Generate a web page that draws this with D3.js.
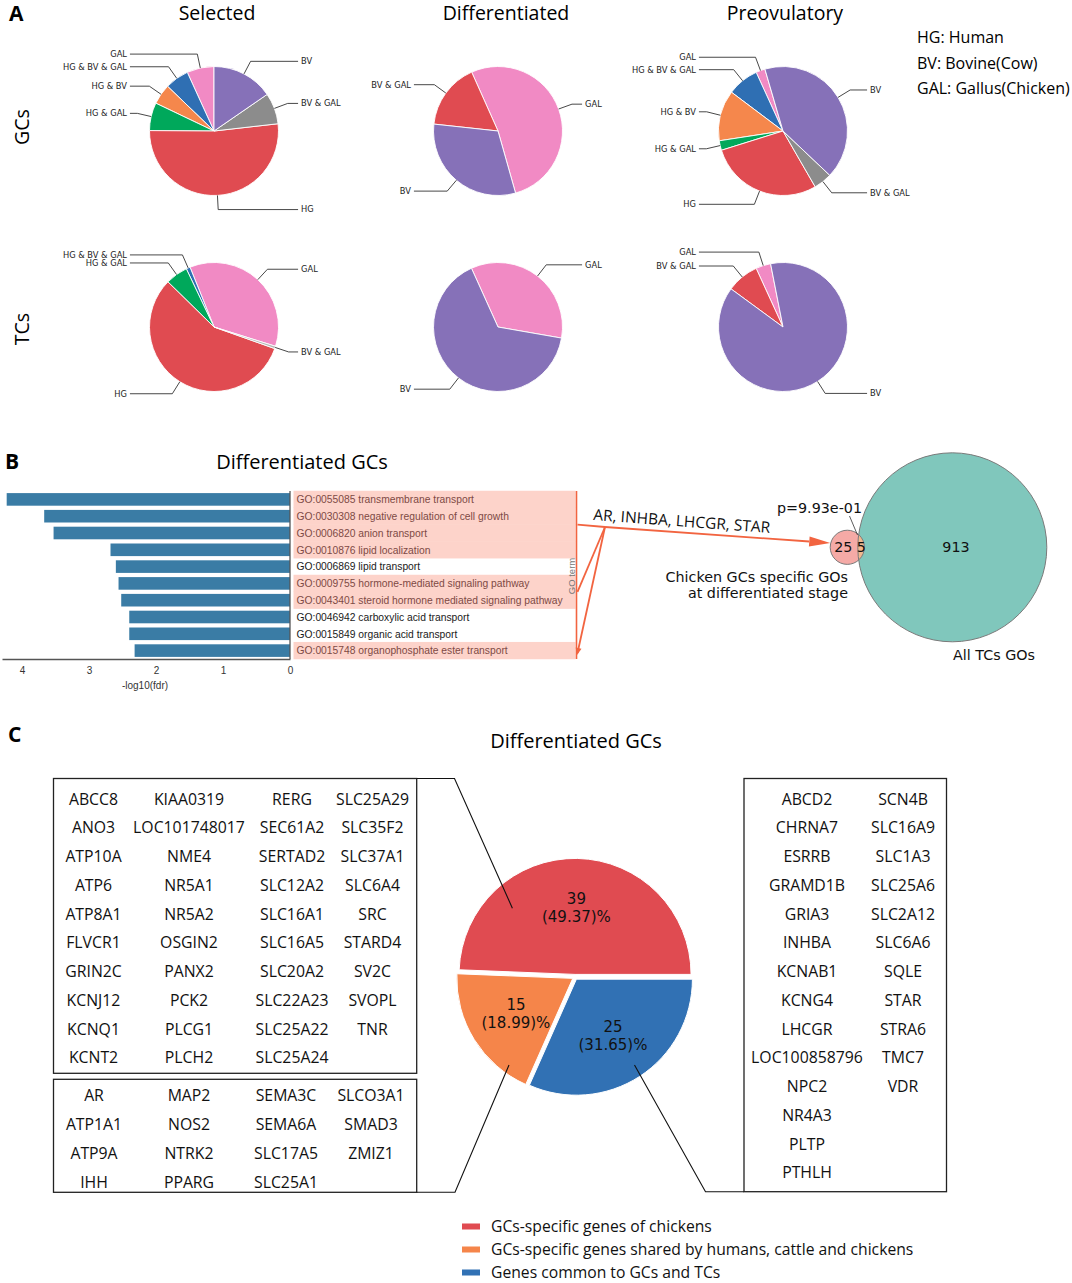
<!DOCTYPE html>
<html>
<head>
<meta charset="utf-8">
<script src="https://cdn.jsdelivr.net/npm/d3@7"></script>
<style>
body { margin: 0; background: #fff; }
</style>
</head>
<body>
<svg id="fig" width="1072" height="1283"></svg>
<script>
// ---------- panel A : share of species-specific genes ----------
var selGCLabels = ["GAL", "HG & BV & GAL", "HG & BV", "HG & GAL", "HG", "BV & GAL", "BV"];
var selGCValues = [6.8, 6.0, 5.1, 7.0, 51.9, 7.8, 15.4];
var difGCLabels = ["GAL", "BV & GAL", "BV"];
var difGCValues = [52.3, 16.6, 31.1];
var preGCLabels = ["GAL", "HG & BV & GAL", "HG & BV", "HG & GAL", "HG", "BV & GAL", "BV"];
var preGCValues = [2.3, 7.9, 12.7, 2.4, 28.5, 4.6, 41.6];
var selTCLabels = ["GAL", "HG & BV & GAL", "HG & GAL", "HG", "BV & GAL"];
var selTCValues = [35.9, 1.0, 5.6, 56.9, 0.6];
var difTCLabels = ["GAL", "BV"];
var difTCValues = [34.5, 65.5];
var preTCLabels = ["GAL", "BV & GAL", "BV"];
var preTCValues = [3.75, 8.1, 88.15];

var stageTitles = ["Selected", "Differentiated", "Preovulatory"];
var cellTitles = ["GCs", "TCs"];
var abbrevLegend = ["HG: Human", "BV: Bovine(Cow)", "GAL: Gallus(Chicken)"];

// ---------- panel B : GO enrichment ----------
var goTerms = [
  "GO:0055085 transmembrane transport",
  "GO:0030308 negative regulation of cell growth",
  "GO:0006820 anion transport",
  "GO:0010876 lipid localization",
  "GO:0006869 lipid transport",
  "GO:0009755 hormone-mediated signaling pathway",
  "GO:0043401 steroid hormone mediated signaling pathway",
  "GO:0046942 carboxylic acid transport",
  "GO:0015849 organic acid transport",
  "GO:0015748 organophosphate ester transport"
];
var goValues = [4.23, 3.67, 3.53, 2.68, 2.60, 2.56, 2.52, 2.40, 2.40, 2.32];
var goHighlight = [1, 1, 1, 1, 0, 1, 1, 0, 0, 1];
var goGroups = [[0, 3], [5, 6], [9, 9]];
var goTicks = [0, 1, 2, 3, 4];
var keyGenes = "AR, INHBA, LHCGR, STAR";
var vennCounts = [25, 5, 913];   // chicken only, shared, TCs only
var vennP = "p=9.93e-01";

// ---------- panel C : differentiated GCs genes ----------
var cCounts = [39, 15, 25];
var cLegend = ["GCs-specific genes of chickens",
               "GCs-specific genes shared by humans, cattle and chickens",
               "Genes common to GCs and TCs"];
var chickenGenes = ["ABCC8","ANO3","ATP10A","ATP6","ATP8A1","FLVCR1","GRIN2C","KCNJ12","KCNQ1","KCNT2",
  "KIAA0319","LOC101748017","NME4","NR5A1","NR5A2","OSGIN2","PANX2","PCK2","PLCG1","PLCH2",
  "RERG","SEC61A2","SERTAD2","SLC12A2","SLC16A1","SLC16A5","SLC20A2","SLC22A23","SLC25A22","SLC25A24",
  "SLC25A29","SLC35F2","SLC37A1","SLC6A4","SRC","STARD4","SV2C","SVOPL","TNR"];
var sharedGenes = ["AR","ATP1A1","ATP9A","IHH","MAP2","NOS2","NTRK2","PPARG",
  "SEMA3C","SEMA6A","SLC17A5","SLC25A1","SLCO3A1","SMAD3","ZMIZ1"];
var commonGenes = ["ABCD2","CHRNA7","ESRRB","GRAMD1B","GRIA3","INHBA","KCNAB1","KCNG4","LHCGR",
  "LOC100858796","NPC2","NR4A3","PLTP","PTHLH",
  "SCN4B","SLC16A9","SLC1A3","SLC25A6","SLC2A12","SLC6A6","SQLE","STAR","STRA6","TMC7","VDR"];

// colours
var PINK = "#f18ac4", BLUE = "#2f6fb3", ORANGE = "#f5874c", GREEN = "#00a85b",
    RED = "#e04b51", GRAY = "#8c8c8c", PURPLE = "#8671b8";
var cColors = ["#e04b51", "#f5854a", "#3171b4"];
var MAIN = "Open Sans, Noto Sans, sans-serif";

var svg = d3.select('#fig');

// ================= PANEL A =================
svg.append('text').attr('x', 9).attr('y', 21).text('A')
  .attr('font-family', MAIN).attr('font-weight', 'bold').attr('font-size', 21);

var colX = [214, 498, 783], rowY = [131, 327], pieR = 64.5;
var titleX = [217, 506, 785];
stageTitles.forEach(function(t, i) {
  svg.append('text').attr('x', titleX[i]).attr('y', 19.5).attr('text-anchor', 'middle')
    .attr('font-family', MAIN).attr('font-size', 19.5).text(t);
});
cellTitles.forEach(function(t, i) {
  var cy = [127, 329][i];
  svg.append('text').attr('transform', 'translate(29,' + cy + ') rotate(-90)')
    .attr('text-anchor', 'middle').attr('font-family', MAIN).attr('font-size', 19.5).text(t);
});
abbrevLegend.forEach(function(t, i) {
  svg.append('text').attr('x', 917).attr('y', 43 + i * 25.5)
    .attr('font-family', MAIN).attr('font-size', 16).text(t);
});

var pies = [
  {labels: selGCLabels, values: selGCValues, colors: [PINK, BLUE, ORANGE, GREEN, RED, GRAY, PURPLE], start: 0, c: 0, r: 0},
  {labels: difGCLabels, values: difGCValues, colors: [PINK, RED, PURPLE], start: 195.8, c: 1, r: 0},
  {labels: preGCLabels, values: preGCValues, colors: [PINK, BLUE, ORANGE, GREEN, RED, GRAY, PURPLE], start: 16.3, c: 2, r: 0},
  {labels: selTCLabels, values: selTCValues, colors: [PINK, BLUE, GREEN, RED, "#b5b5b5"], start: 252.6, c: 0, r: 1},
  {labels: difTCLabels, values: difTCValues, colors: [PINK, PURPLE], start: 260.1, c: 1, r: 1},
  {labels: preTCLabels, values: preTCValues, colors: [PINK, RED, PURPLE], start: 11.1, c: 2, r: 1}
];

var arcA = d3.arc().innerRadius(0).outerRadius(pieR);
pies.forEach(function(p) {
  var cx = colX[p.c], cy = rowY[p.r];
  var rad = Math.PI / 180;
  var pie = d3.pie().sort(null).value(function(d) { return d.v; })
    .startAngle(-p.start * rad).endAngle(-(p.start + 360) * rad);
  var data = p.labels.map(function(l, i) { return {label: l, v: p.values[i], color: p.colors[i]}; });
  var arcs = pie(data);
  var g = svg.append('g').attr('transform', 'translate(' + cx + ',' + cy + ')');
  g.selectAll('path.wedge').data(arcs).enter().append('path')
    .attr('class', 'wedge')
    .attr('d', arcA)
    .attr('fill', function(d) { return d.data.color; })
    .attr('stroke', '#fff').attr('stroke-width', 0.9);

  arcs.forEach(function(a) {
    var m = (a.startAngle + a.endAngle) / 2;
    var sx = Math.sin(m), sy = -Math.cos(m);
    var side = sx >= 0 ? 1 : -1;
    var p0 = [pieR * sx, pieR * sy];
    var p1 = [1.22 * pieR * sx, 1.22 * pieR * sy];
    var tx = side * 1.35 * pieR;
    g.append('path')
      .attr('d', 'M' + p0 + 'L' + p1 + 'L' + [tx - side * 3, p1[1]])
      .attr('fill', 'none').attr('stroke', '#333').attr('stroke-width', 0.9);
    g.append('text').attr('x', tx).attr('y', p1[1]).attr('dy', '0.35em')
      .attr('text-anchor', side > 0 ? 'start' : 'end')
      .attr('font-family', 'DejaVu Sans').attr('font-size', 8.3).attr('fill', '#222')
      .text(a.data.label);
  });
});

// ================= PANEL B =================
svg.append('text').attr('x', 5).attr('y', 469).text('B')
  .attr('font-family', MAIN).attr('font-weight', 'bold').attr('font-size', 21);
svg.append('text').attr('x', 302).attr('y', 469).attr('text-anchor', 'middle')
  .attr('font-family', MAIN).attr('font-size', 20).text('Differentiated GCs');

var xB = d3.scaleLinear().domain([0, 4.3]).range([290, 2]);
var yB = d3.scaleBand().domain(goTerms).range([491, 659]).paddingInner(0.25).paddingOuter(0.125);
var step = yB.step();
var HL = "#fdd3ca", ARROW = "#f26440";

// highlighted term rows
svg.append('g').selectAll('rect').data(goTerms.filter(function(t, i) { return goHighlight[i]; }))
  .enter().append('rect')
  .attr('x', 293.5).attr('width', 282)
  .attr('y', function(d) { return yB(d) - step * 0.125 - 0.25; })
  .attr('height', step + 0.5)
  .attr('fill', HL);

svg.append('g').selectAll('rect').data(goTerms).enter().append('rect')
  .attr('x', function(d, i) { return xB(goValues[i]); })
  .attr('width', function(d, i) { return xB(0) - xB(goValues[i]); })
  .attr('y', function(d) { return yB(d); })
  .attr('height', yB.bandwidth())
  .attr('fill', '#3a7ca5');

svg.append('g').selectAll('text').data(goTerms).enter().append('text')
  .attr('x', 296.5)
  .attr('y', function(d) { return yB(d) + yB.bandwidth() / 2; })
  .attr('dy', '0.36em')
  .attr('font-family', 'Liberation Sans, Arial, sans-serif').attr('font-size', 10.3)
  .attr('fill', function(d, i) { return goHighlight[i] ? '#7d4a45' : '#1a1a1a'; })
  .text(function(d) { return d; });

var xAxisB = svg.append('g').attr('transform', 'translate(0,659)')
  .call(d3.axisBottom(xB).tickValues(goTicks).tickSize(0).tickPadding(8).tickFormat(d3.format('d')));
xAxisB.select('.domain').attr('stroke', '#555').attr('stroke-width', 1.6);
xAxisB.selectAll('text').attr('font-family', 'Liberation Sans, Arial, sans-serif')
  .attr('font-size', 10).attr('fill', '#333');
svg.append('line').attr('x1', xB(0)).attr('x2', xB(0)).attr('y1', 491).attr('y2', 659)
  .attr('stroke', '#555').attr('stroke-width', 1.3);
svg.append('text').attr('x', 145).attr('y', 689).attr('text-anchor', 'middle')
  .attr('font-family', 'Liberation Sans, Arial, sans-serif').attr('font-size', 10).attr('fill', '#333')
  .text('-log10(fdr)');

// GO term bracket and connectors
svg.append('line').attr('x1', 576.5).attr('x2', 576.5).attr('y1', 491).attr('y2', 659)
  .attr('stroke', ARROW).attr('stroke-width', 1.6);
svg.append('text').attr('transform', 'translate(574.5,576) rotate(-90)')
  .attr('text-anchor', 'middle').attr('font-family', 'Liberation Sans, Arial, sans-serif')
  .attr('font-size', 9.5).attr('fill', '#777').text('GO term');

var hub = [605, 527];
goGroups.forEach(function(gr, k) {
  var ya = yB(goTerms[gr[0]]) - step * 0.125, yb = yB(goTerms[gr[1]]) + step * 0.875;
  var ym = k === 2 ? yb - 6 : (ya + yb) / 2;
  svg.append('line').attr('x1', hub[0]).attr('y1', hub[1]).attr('x2', 577.5).attr('y2', ym)
    .attr('stroke', ARROW).attr('stroke-width', 1.8);
  if (k === 2) {
    var ang = Math.atan2(ym - hub[1], 577.5 - hub[0]);
    var hl = 7, hw = 3;
    var tip = [577.5 + Math.cos(ang) * 2, ym + Math.sin(ang) * 2];
    var base = [tip[0] - Math.cos(ang) * hl, tip[1] - Math.sin(ang) * hl];
    var nx = -Math.sin(ang), ny = Math.cos(ang);
    svg.append('path').attr('d', 'M' + tip + 'L' + [base[0] + nx * hw, base[1] + ny * hw] +
      'L' + [base[0] - nx * hw, base[1] - ny * hw] + 'Z').attr('fill', ARROW);
  }
});

// arrow to the Venn diagram
var vennY = 547.3;
var rs = d3.scaleSqrt().domain([0, vennCounts[1] + vennCounts[2]]).range([0, 94.5]);
var rSmall = rs(vennCounts[0] + vennCounts[1]), rBig = rs(vennCounts[1] + vennCounts[2]);
var cSmall = 847.3, cBig = 952.3;
(function() {
  var tip = [cSmall - rSmall, 543];
  var ang = Math.atan2(tip[1] - hub[1], tip[0] - hub[0]);
  var hl = 21, hw = 5;
  var base = [tip[0] - Math.cos(ang) * hl, tip[1] - Math.sin(ang) * hl];
  var nx = -Math.sin(ang), ny = Math.cos(ang);
  svg.append('line').attr('x1', hub[0]).attr('y1', hub[1]).attr('x2', base[0]).attr('y2', base[1])
    .attr('stroke', ARROW).attr('stroke-width', 1.8);
  svg.append('path').attr('d', 'M' + tip + 'L' + [base[0] + nx * hw, base[1] + ny * hw] +
    'L' + [base[0] - nx * hw, base[1] - ny * hw] + 'Z').attr('fill', ARROW);
  svg.append('text').attr('transform', 'translate(593,520) rotate(4.2)')
    .attr('font-family', MAIN).attr('font-size', 15.5).attr('fill', '#111').text(keyGenes);
})();

// Venn
var defs = svg.append('defs');
defs.append('clipPath').attr('id', 'smallClip').append('circle')
  .attr('cx', cSmall).attr('cy', vennY).attr('r', rSmall);
svg.append('circle').attr('cx', cBig).attr('cy', vennY).attr('r', rBig).attr('fill', '#80c7bc');
svg.append('circle').attr('cx', cSmall).attr('cy', vennY).attr('r', rSmall).attr('fill', '#f5aaa6');
svg.append('circle').attr('cx', cBig).attr('cy', vennY).attr('r', rBig).attr('fill', '#f2b98e')
  .attr('clip-path', 'url(#smallClip)');
[[cBig, rBig], [cSmall, rSmall]].forEach(function(c) {
  svg.append('circle').attr('cx', c[0]).attr('cy', vennY).attr('r', c[1])
    .attr('fill', 'none').attr('stroke', '#7a7a7a').attr('stroke-width', 1);
});
var vennTextX = [843.3, 861.2, 956];
vennCounts.forEach(function(v, i) {
  svg.append('text').attr('x', vennTextX[i]).attr('y', vennY).attr('dy', '0.36em')
    .attr('text-anchor', 'middle').attr('font-family', 'DejaVu Sans').attr('font-size', 14.3)
    .attr('fill', '#111').text(v);
});
svg.append('text').attr('x', 862).attr('y', 508).attr('dy', '0.36em').attr('text-anchor', 'end')
  .attr('font-family', 'DejaVu Sans').attr('font-size', 14.3).attr('fill', '#111').text(vennP);
svg.append('line').attr('x1', 849.5).attr('y1', 516).attr('x2', 857.5).attr('y2', 535)
  .attr('stroke', '#333').attr('stroke-width', 0.8);
["Chicken GCs specific GOs", "at differentiated stage"].forEach(function(t, i) {
  svg.append('text').attr('x', 848).attr('y', 577 + i * 16).attr('dy', '0.36em').attr('text-anchor', 'end')
    .attr('font-family', 'DejaVu Sans').attr('font-size', 14.3).attr('fill', '#111').text(t);
});
svg.append('text').attr('x', 953).attr('y', 655).attr('dy', '0.36em')
  .attr('font-family', 'DejaVu Sans').attr('font-size', 14.3).attr('fill', '#111').text('All TCs GOs');

// ================= PANEL C =================
svg.append('text').attr('x', 8).attr('y', 742).text('C')
  .attr('font-family', MAIN).attr('font-weight', 'bold').attr('font-size', 21);
svg.append('text').attr('x', 576).attr('y', 748).attr('text-anchor', 'middle')
  .attr('font-family', MAIN).attr('font-size', 20).text('Differentiated GCs');

var cCx = 575, cCy = 977, cR = 116;
var pieC = d3.pie().sort(null).startAngle(Math.PI / 2).endAngle(Math.PI / 2 - 2 * Math.PI);
var arcsC = pieC(cCounts);
var arcC = d3.arc().innerRadius(0).outerRadius(cR);
var totalC = d3.sum(cCounts);
var gC = svg.append('g').attr('transform', 'translate(' + cCx + ',' + cCy + ')');
gC.selectAll('path').data(arcsC).enter().append('path')
  .attr('d', arcC)
  .attr('transform', function(d) {
    var m = (d.startAngle + d.endAngle) / 2;
    return 'translate(' + [2.6 * Math.sin(m), -2.6 * Math.cos(m)] + ')';
  })
  .attr('fill', function(d, i) { return cColors[i]; })
  .attr('stroke', '#fff').attr('stroke-width', 1);
arcsC.forEach(function(a) {
  var m = (a.startAngle + a.endAngle) / 2;
  var px = 0.6 * cR * Math.sin(m), py = -0.6 * cR * Math.cos(m);
  var lines = [String(a.data), '(' + (a.data / totalC * 100).toFixed(2) + ')%'];
  lines.forEach(function(t, j) {
    gC.append('text').attr('x', px).attr('y', py + (j - 0.5) * 18.3).attr('dy', '0.36em')
      .attr('text-anchor', 'middle').attr('font-family', 'DejaVu Sans').attr('font-size', 15)
      .attr('fill', '#111').text(t);
  });
});

// gene boxes
var geneFont = 15.8, rowStep = 28.75;
function geneBox(genes, perCol, colCenters, y0, box) {
  svg.append('rect').attr('x', box[0]).attr('y', box[1]).attr('width', box[2] - box[0])
    .attr('height', box[3] - box[1]).attr('fill', 'none').attr('stroke', '#222').attr('stroke-width', 1.3);
  svg.append('g').selectAll('text').data(genes).enter().append('text')
    .attr('x', function(d, i) { return colCenters[Math.floor(i / perCol)]; })
    .attr('y', function(d, i) { return y0 + (i % perCol) * rowStep; })
    .attr('dy', '0.36em').attr('text-anchor', 'middle')
    .attr('font-family', MAIN).attr('font-size', geneFont).attr('fill', '#111')
    .text(function(d) { return d; });
}
geneBox(chickenGenes, 10, [93.5, 189, 292, 372.5], 799, [53.5, 778.5, 416.7, 1073.3]);
geneBox(sharedGenes, 4, [94, 189, 286, 371], 1095.7, [53.5, 1079.3, 416.7, 1192.3]);
geneBox(commonGenes, 14, [807, 903], 799, [744, 778.5, 946.5, 1191.7]);

// leader lines from boxes to wedges
[
  [[416.7, 778.5], [454.5, 778.5], [512.4, 908.3]],
  [[416.7, 1192.3], [455, 1192.3], [509, 1065]],
  [[744, 1191.7], [705.5, 1191.7], [634.5, 1065]]
].forEach(function(pts) {
  svg.append('path').attr('d', d3.line()(pts)).attr('fill', 'none')
    .attr('stroke', '#111').attr('stroke-width', 1.1);
});

// legend
cLegend.forEach(function(t, i) {
  var ly = 1226.5 + i * 23;
  svg.append('rect').attr('x', 462).attr('y', ly - 3).attr('width', 18).attr('height', 6)
    .attr('fill', cColors[i]);
  svg.append('text').attr('x', 491).attr('y', ly).attr('dy', '0.36em')
    .attr('font-family', MAIN).attr('font-size', 15.7).attr('fill', '#111').text(t);
});
</script>
</body>
</html>
